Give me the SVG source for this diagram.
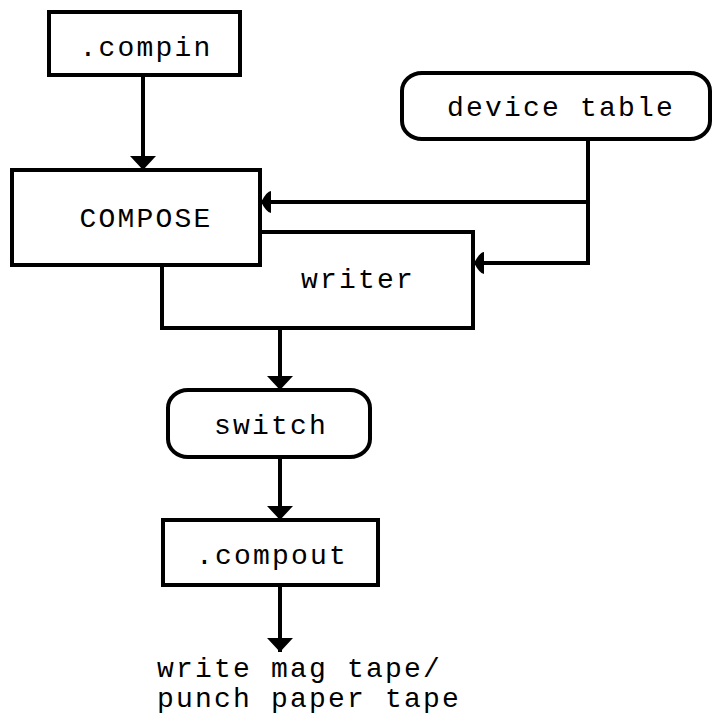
<svg xmlns="http://www.w3.org/2000/svg" width="715" height="714" viewBox="0 0 715 714">
  <style>
    .box { fill: none; stroke: #000; stroke-width: 4; stroke-linejoin: miter; }
    .term { fill: none; stroke: #000; stroke-width: 4; }
    .wire { fill: none; stroke: #000; stroke-width: 4; }
    .lbl { font-family: "Liberation Mono", "DejaVu Sans Mono", monospace; font-size: 28px; letter-spacing: 2.2px; fill: #000; }
    .mid { text-anchor: middle; }
  </style>
  <defs>
    <marker id="headDown" viewBox="0 -13 14 26" refX="14" refY="0" markerWidth="14" markerHeight="26" markerUnits="userSpaceOnUse" orient="auto">
      <path d="M0,-13 L14,0 L0,13 z" fill="#000"/>
    </marker>
    <marker id="headSide" viewBox="0 -11 10 22" refX="10" refY="0" markerWidth="10" markerHeight="22" markerUnits="userSpaceOnUse" orient="auto">
      <path d="M0,-11 Q4,-11 10,0 Q4,11 0,11 z" fill="#000"/>
    </marker>
  </defs>

  <rect width="715" height="714" fill="#fff"/>

  <g id="compin">
    <rect class="box" x="49" y="12" width="191" height="63"/>
    <text class="lbl mid" x="146" y="56">.compin</text>
  </g>

  <g id="device-table">
    <rect class="term" x="402" y="73" width="308" height="66" rx="20" ry="18"/>
    <text class="lbl mid" x="561" y="116">device table</text>
  </g>

  <g id="compose">
    <rect class="box" x="12" y="170" width="248" height="95"/>
    <text class="lbl mid" x="146" y="227">COMPOSE</text>
  </g>

  <g id="writer">
    <path class="box" d="M260,232 H473 V328 H162 V265"/>
    <text class="lbl mid" x="358" y="288">writer</text>
  </g>

  <g id="switch">
    <rect class="term" x="168" y="390" width="202" height="67" rx="20" ry="18"/>
    <text class="lbl mid" x="271" y="434">switch</text>
  </g>

  <g id="compout">
    <rect class="box" x="163" y="520" width="215" height="65"/>
    <text class="lbl mid" x="272" y="564">.compout</text>
  </g>

  <g id="output-note">
    <text class="lbl" x="157" y="677">write mag tape/</text>
    <text class="lbl" x="157" y="707">punch paper tape</text>
  </g>

  <g id="connectors">
    <path class="wire" d="M143,75 V170" marker-end="url(#headDown)"/>
    <path class="wire" d="M588,139 V263 H474" marker-end="url(#headSide)"/>
    <path class="wire" d="M588,202 H261" marker-end="url(#headSide)"/>
    <path class="wire" d="M280,329 V390" marker-end="url(#headDown)"/>
    <path class="wire" d="M280,457 V520" marker-end="url(#headDown)"/>
    <path class="wire" d="M280,585 V652" marker-end="url(#headDown)"/>
  </g>
</svg>
